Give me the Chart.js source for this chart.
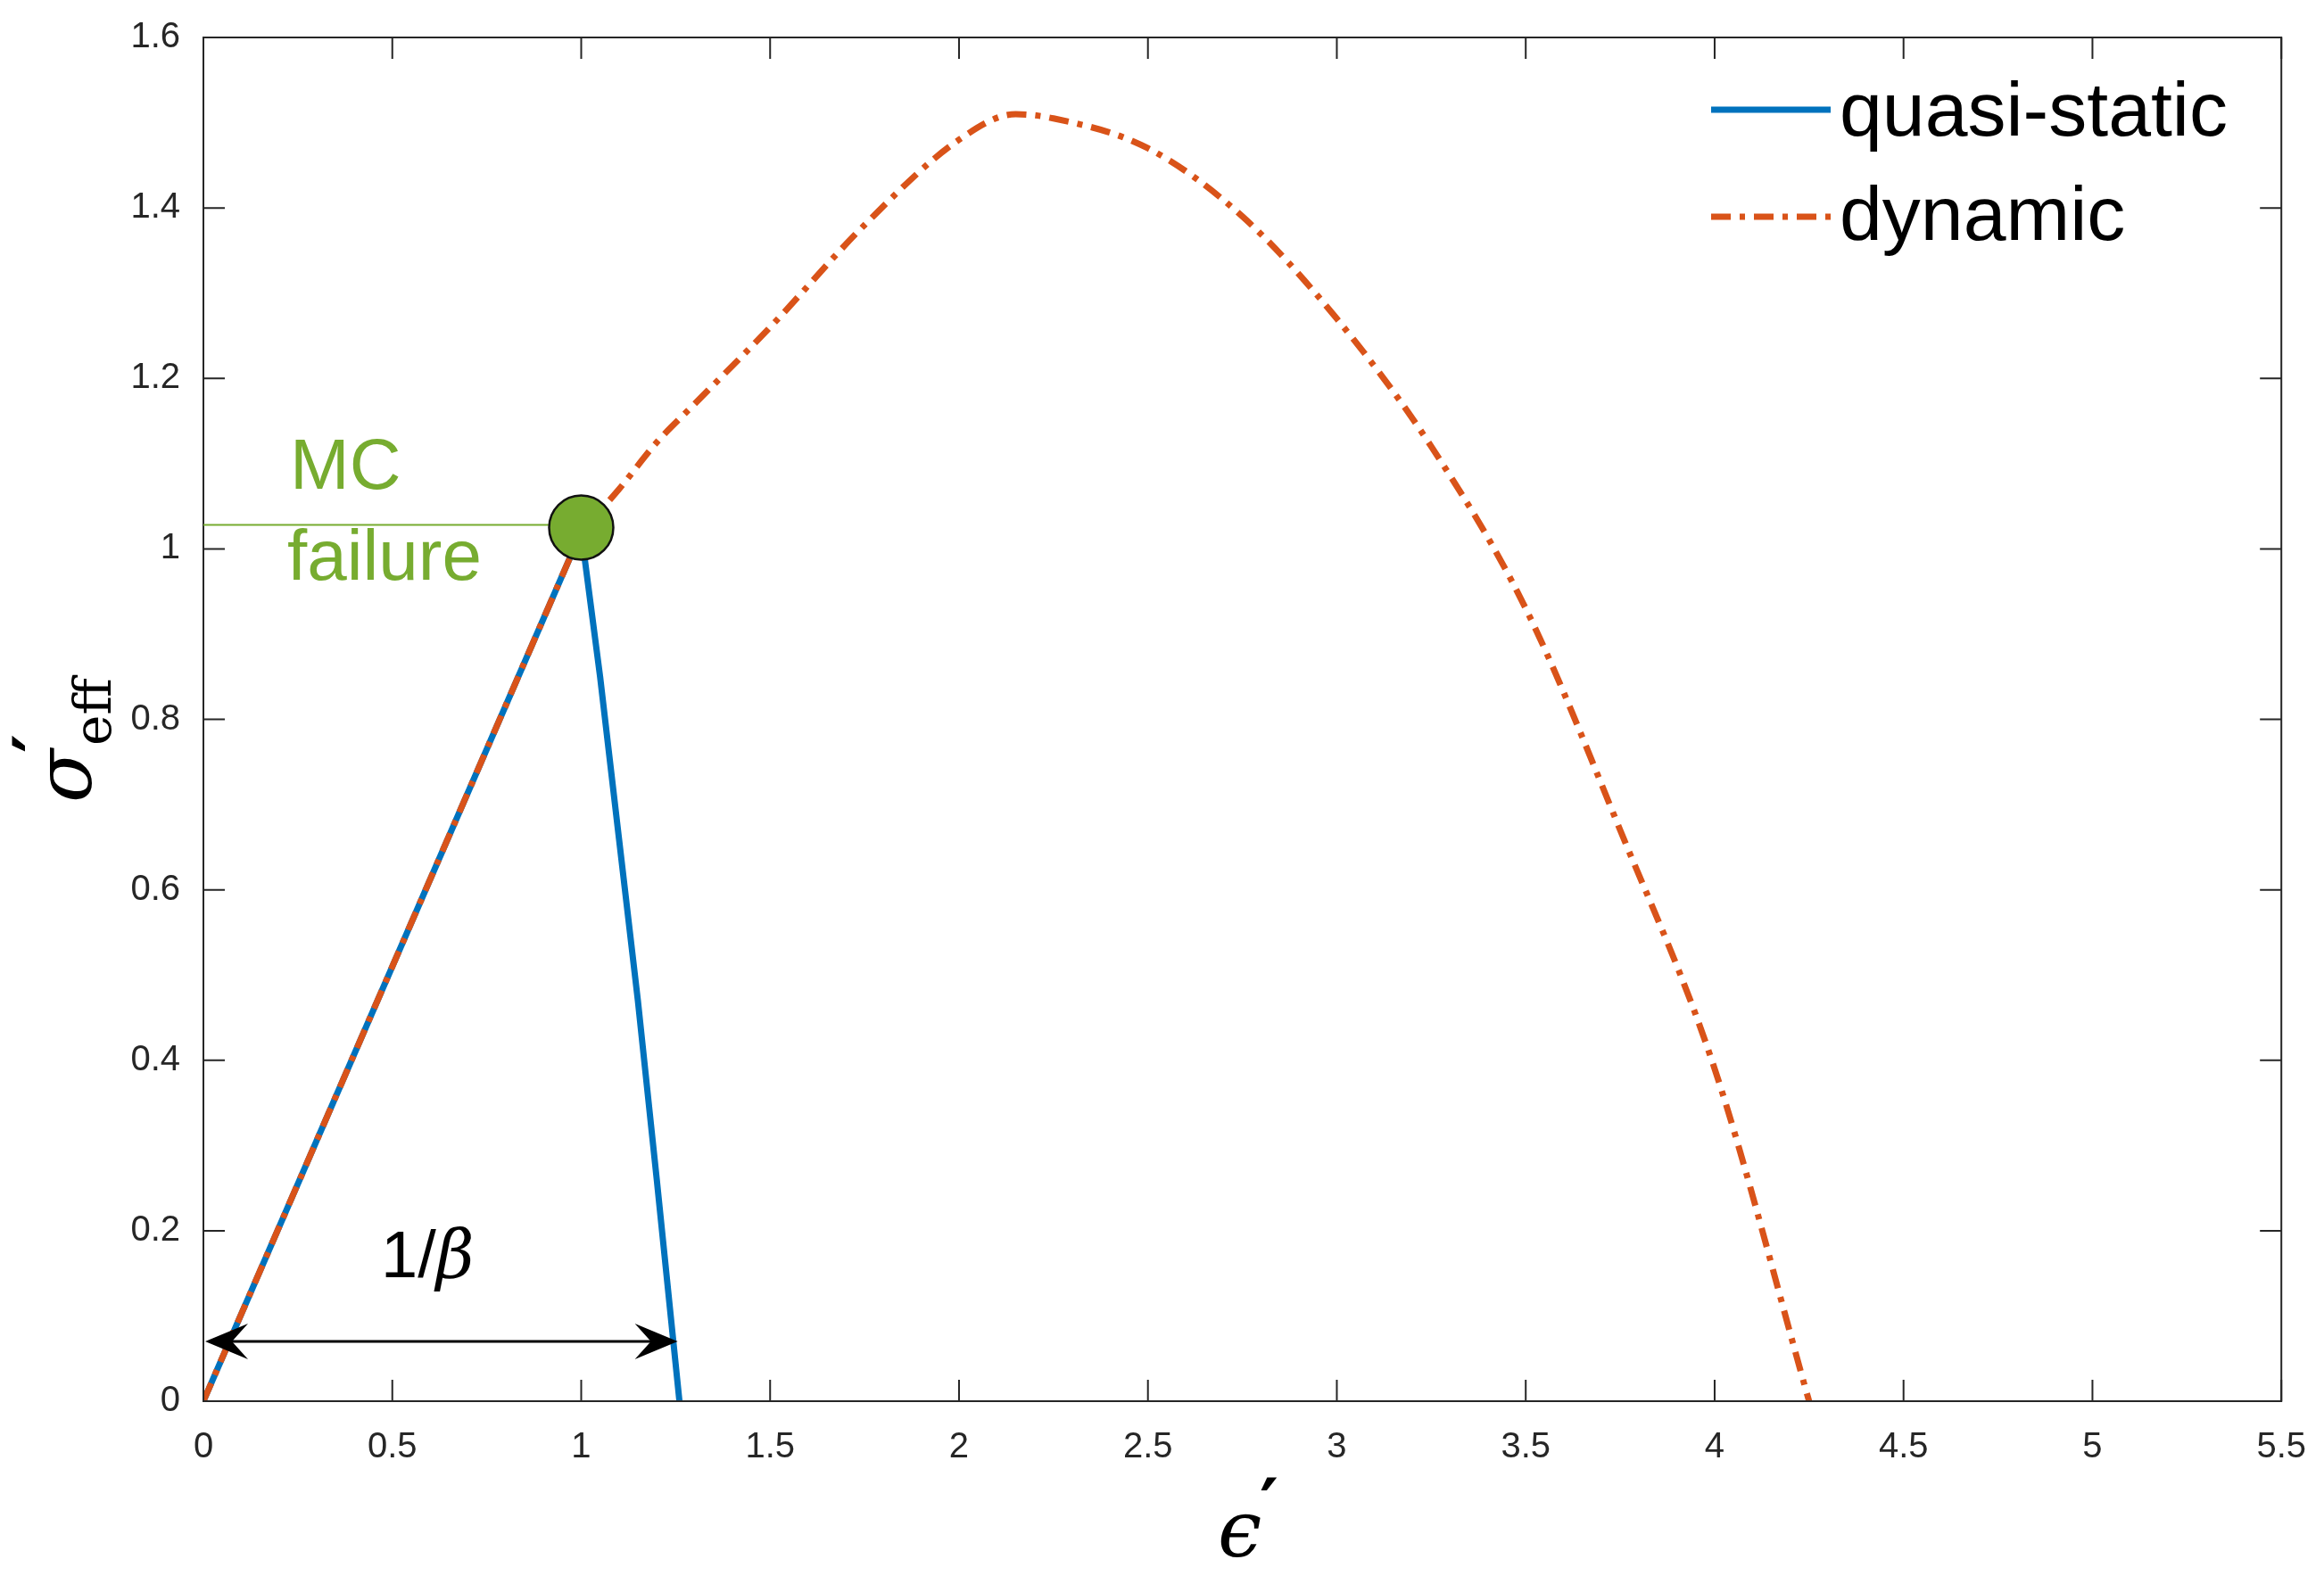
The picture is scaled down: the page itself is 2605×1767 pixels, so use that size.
<!DOCTYPE html>
<html><head><meta charset="utf-8">
<script src="https://cdn.jsdelivr.net/npm/chart.js@4"></script>
<style>html,body{margin:0;padding:0;background:#fff}#w{width:2605px;height:1767px}</style>
</head><body><div id="w"><canvas id="c"></canvas></div>
<script>
const xTicks=[0,0.5,1,1.5,2,2.5,3,3.5,4,4.5,5,5.5];
const yTicks=[0,0.2,0.4,0.6,0.8,1,1.2,1.4,1.6];
const quasiX=[0,1.0,1.05,1.1,1.15,1.2,1.26];
const quasiY=[0,1.02,0.85,0.66,0.47,0.26,0];
const dynUpX=[0,1.0];
const dynUpY=[0,1.02];
const dynX=[1.0,1.1,1.2,1.3,1.5,1.75,2.0,2.15,2.25,2.5,2.75,3.0,3.25,3.5,3.75,4.0,4.25];
const dynY=[1.02,1.07,1.125,1.17,1.26,1.38,1.48,1.51,1.505,1.47,1.39,1.27,1.12,0.93,0.67,0.39,0];
const mcPoint={x:1.0,y:1.025};
const arrowY=0.07, arrowX0=0, arrowX1=1.26;
const labelsTxt={legend:['quasi-static','dynamic'],mc1:'MC',mc2:'failure'};
const BLUE='#0072BD',ORANGE='#D95319',GREEN='#77AC30',TXT='#262626';
const pts=(xs,ys)=>xs.map((x,i)=>({x,y:ys[i]}));
const DASH=[22,10,6,10];

const deco={id:'deco',
 afterDatasetsDraw(ch){
  const c=ch.ctx,a=ch.chartArea,xs=ch.scales.x,ys=ch.scales.y;
  c.save();
  c.strokeStyle=TXT;c.lineWidth=2;c.strokeRect(a.left,a.top,a.right-a.left,a.bottom-a.top);
  const tl=24;c.beginPath();
  xTicks.forEach(v=>{const p=xs.getPixelForValue(v);c.moveTo(p,a.bottom);c.lineTo(p,a.bottom-tl);c.moveTo(p,a.top);c.lineTo(p,a.top+tl);});
  yTicks.forEach(v=>{const p=ys.getPixelForValue(v);c.moveTo(a.left,p);c.lineTo(a.left+tl,p);c.moveTo(a.right,p);c.lineTo(a.right-tl,p);});
  c.stroke();
  const mx=xs.getPixelForValue(mcPoint.x),my=ys.getPixelForValue(mcPoint.y);
  c.strokeStyle=GREEN;c.lineWidth=2;c.beginPath();c.moveTo(a.left,my-3);c.lineTo(mx,my-3);c.stroke();
  c.fillStyle=GREEN;c.font='80px Arial, "Liberation Sans"';c.textBaseline='alphabetic';
  c.fillText(labelsTxt.mc1,325,548);c.fillText(labelsTxt.mc2,322,650);
  c.beginPath();c.arc(mx,my,36,0,Math.PI*2);c.fill();c.strokeStyle='#111';c.lineWidth=2.5;c.stroke();
  const ay=ys.getPixelForValue(arrowY),ax0=xs.getPixelForValue(arrowX0),ax1=xs.getPixelForValue(arrowX1);
  c.strokeStyle='#000';c.lineWidth=3;c.beginPath();c.moveTo(ax0+20,ay);c.lineTo(ax1-20,ay);c.stroke();
  c.fillStyle='#000';
  const head=(x,d)=>{c.beginPath();c.moveTo(x,ay);c.lineTo(x+d*48,ay-20);c.lineTo(x+d*30,ay);c.lineTo(x+d*48,ay+20);c.closePath();c.fill();};
  head(ax0+2,1);head(ax1-2,-1);
  c.font='74px Arial, "Liberation Sans"';c.textAlign='left';
  const bx=xs.getPixelForValue(0.47),by=ys.getPixelForValue(0.145);
  c.fillText('1/',bx,by);const w=c.measureText('1/').width;
  c.font='italic 74px "DejaVu Serif", serif';c.fillText('β',bx+w,by);
  c.lineWidth=7;c.strokeStyle=BLUE;c.beginPath();c.moveTo(1918,123);c.lineTo(2052,123);c.stroke();
  c.strokeStyle=ORANGE;c.setLineDash(DASH);c.beginPath();c.moveTo(1918,243);c.lineTo(2052,243);c.stroke();c.setLineDash([]);
  c.fillStyle='#000';c.font='86px Arial, "Liberation Sans"';c.textBaseline='middle';
  c.fillText(labelsTxt.legend[0],2062,128);c.fillText(labelsTxt.legend[1],2062,245);
  c.textBaseline='alphabetic';c.font='italic 88px "DejaVu Serif", serif';
  c.fillText('ϵ',1365,1745);
  c.font='bold 80px "DejaVu Sans", sans-serif';c.fillText('′',1412,1715);
  c.save();c.translate(102,900);c.rotate(-Math.PI/2);
  c.font='italic 88px "DejaVu Serif", serif';c.fillText('σ',0,0);
  const sw=c.measureText('σ').width;
  c.font='bold 80px "DejaVu Sans", sans-serif';c.fillText('′',sw-4,-30);
  c.font='58px "DejaVu Serif", serif';c.fillText('eff',sw+4,22);
  c.restore();
  c.restore();
 }};

new Chart(document.getElementById('c'),{
 type:'scatter',
 data:{datasets:[
  {data:pts(quasiX,quasiY),showLine:true,borderColor:BLUE,borderWidth:7,pointRadius:0,tension:0,order:3},
  {data:pts(dynUpX,dynUpY),showLine:true,borderColor:ORANGE,borderWidth:7,pointRadius:0,borderDash:DASH,order:1},
  {data:pts(dynX,dynY),showLine:true,borderColor:ORANGE,borderWidth:7,pointRadius:0,borderDash:DASH,cubicInterpolationMode:'monotone',order:2}
 ]},
 options:{responsive:true,maintainAspectRatio:false,animation:false,
  layout:{padding:{left:0,right:39,top:27,bottom:0}},
  plugins:{legend:{display:false},tooltip:{enabled:false}},
  scales:{
   x:{type:'linear',min:0,max:5.5,afterFit:s=>{s.height=196;},
      afterBuildTicks:s=>{s.ticks=xTicks.map(v=>({value:v}));},
      grid:{display:false},border:{display:false},
      ticks:{color:TXT,font:{size:40,family:'Arial, "Liberation Sans"'},padding:20,maxRotation:0,callback:v=>String(v)}},
   y:{type:'linear',min:0,max:1.6,afterFit:s=>{s.width=228;},
      afterBuildTicks:s=>{s.ticks=yTicks.map(v=>({value:v}));},
      grid:{display:false},border:{display:false},
      ticks:{color:TXT,font:{size:40,family:'Arial, "Liberation Sans"'},padding:18,callback:v=>String(v)}}
  }},
 plugins:[deco]});
</script></body></html>
